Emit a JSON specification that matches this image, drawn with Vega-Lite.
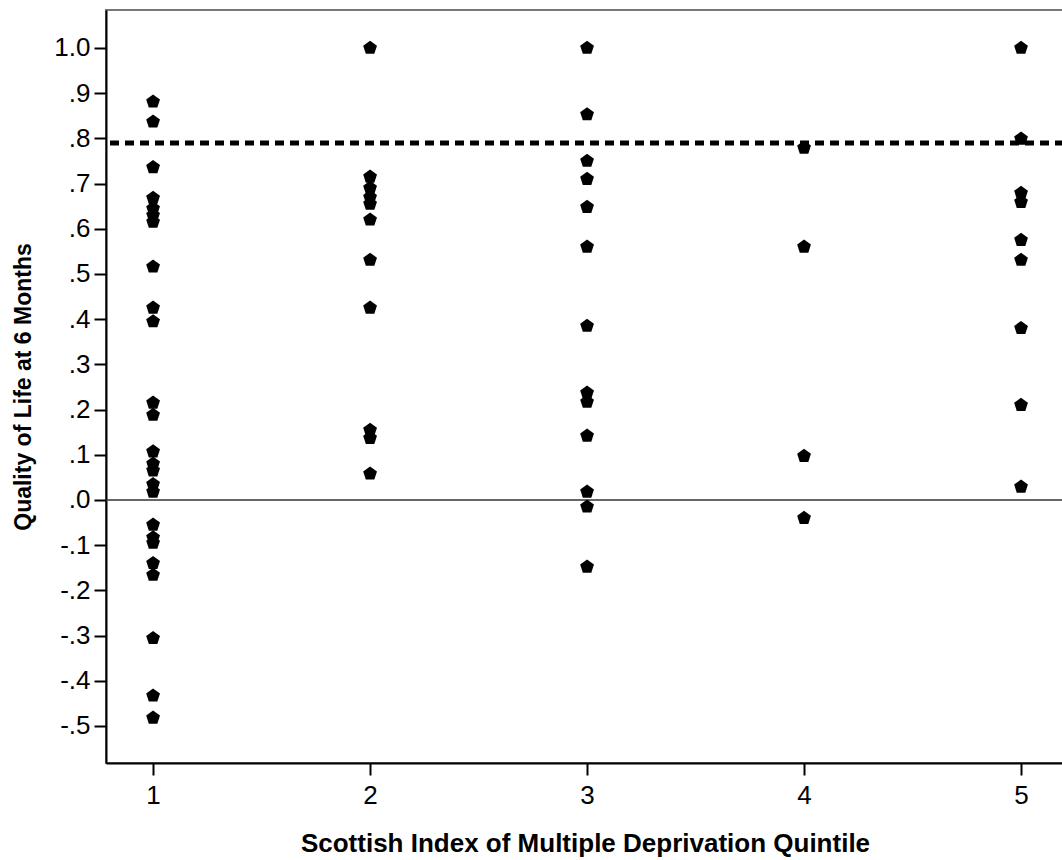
{
  "$schema": "https://vega.github.io/schema/vega-lite/v6.json",
  "autosize": "none",
  "width": 958,
  "height": 753,
  "padding": {"left": 106, "top": 10, "right": 0, "bottom": 97},
  "background": "white",
  "config": {
    "view": {"stroke": "#777777", "strokeWidth": 2},
    "font": "Liberation Sans"
  },
  "datasets": {
    "pts": [
      {"q": 1, "qol": 0.881}, {"q": 1, "qol": 0.837}, {"q": 1, "qol": 0.736},
      {"q": 1, "qol": 0.668}, {"q": 1, "qol": 0.645}, {"q": 1, "qol": 0.63}, {"q": 1, "qol": 0.615},
      {"q": 1, "qol": 0.516}, {"q": 1, "qol": 0.425}, {"q": 1, "qol": 0.395},
      {"q": 1, "qol": 0.215}, {"q": 1, "qol": 0.188},
      {"q": 1, "qol": 0.107}, {"q": 1, "qol": 0.08}, {"q": 1, "qol": 0.065}, {"q": 1, "qol": 0.035}, {"q": 1, "qol": 0.018},
      {"q": 1, "qol": -0.055}, {"q": 1, "qol": -0.083}, {"q": 1, "qol": -0.095},
      {"q": 1, "qol": -0.14}, {"q": 1, "qol": -0.166},
      {"q": 1, "qol": -0.306}, {"q": 1, "qol": -0.433}, {"q": 1, "qol": -0.482},
      {"q": 2, "qol": 1.0}, {"q": 2, "qol": 0.715}, {"q": 2, "qol": 0.69}, {"q": 2, "qol": 0.67}, {"q": 2, "qol": 0.655},
      {"q": 2, "qol": 0.62}, {"q": 2, "qol": 0.531}, {"q": 2, "qol": 0.425},
      {"q": 2, "qol": 0.155}, {"q": 2, "qol": 0.137}, {"q": 2, "qol": 0.058},
      {"q": 3, "qol": 1.0}, {"q": 3, "qol": 0.853}, {"q": 3, "qol": 0.75}, {"q": 3, "qol": 0.71},
      {"q": 3, "qol": 0.648}, {"q": 3, "qol": 0.56}, {"q": 3, "qol": 0.385},
      {"q": 3, "qol": 0.237}, {"q": 3, "qol": 0.217}, {"q": 3, "qol": 0.142},
      {"q": 3, "qol": 0.018}, {"q": 3, "qol": -0.015}, {"q": 3, "qol": -0.148},
      {"q": 4, "qol": 0.779}, {"q": 4, "qol": 0.56}, {"q": 4, "qol": 0.097}, {"q": 4, "qol": -0.04},
      {"q": 5, "qol": 1.0}, {"q": 5, "qol": 0.799}, {"q": 5, "qol": 0.679}, {"q": 5, "qol": 0.659},
      {"q": 5, "qol": 0.575}, {"q": 5, "qol": 0.531}, {"q": 5, "qol": 0.38}, {"q": 5, "qol": 0.21}, {"q": 5, "qol": 0.029}
    ],
    "refs": [{"y": 0, "kind": "zero"}],
    "cut": [{"y": 0.79, "kind": "cut"}]
  },
  "layer": [
    {
      "data": {"name": "refs"},
      "mark": {"type": "rule", "color": "#333333", "strokeWidth": 1.5},
      "encoding": {"y": {"field": "y", "type": "quantitative", "scale": {"domain": [-0.582, 1.084], "nice": false, "zero": false}}}
    },
    {
      "data": {"name": "cut"},
      "mark": {"type": "rule", "color": "black", "strokeWidth": 5, "strokeDash": [9, 6]},
      "encoding": {"y": {"field": "y", "type": "quantitative"}}
    },
    {
      "data": {"name": "pts"},
      "mark": {
        "type": "point",
        "filled": true,
        "color": "black",
        "opacity": 1,
        "size": 210,
        "shape": "M0,-1L0.951,-0.309L0.588,0.809L-0.588,0.809L-0.951,-0.309Z"
      },
      "encoding": {
        "x": {
          "field": "q", "type": "quantitative",
          "scale": {"domain": [0.783, 5.198], "nice": false, "zero": false},
          "axis": {
            "values": [1, 2, 3, 4, 5],
            "title": "Scottish Index of Multiple Deprivation Quintile",
            "titleFont": "Liberation Sans", "titleFontSize": 26, "titleFontWeight": "bold", "titleColor": "black",
            "titlePadding": 22,
            "labelFont": "Liberation Sans", "labelFontSize": 26, "labelColor": "black", "labelPadding": 7,
            "domainColor": "black", "domainWidth": 2,
            "tickColor": "black", "tickWidth": 2, "tickSize": 12,
            "grid": false
          }
        },
        "y": {
          "field": "qol", "type": "quantitative",
          "scale": {"domain": [-0.582, 1.084], "nice": false, "zero": false},
          "axis": {
            "values": [-0.5, -0.4, -0.3, -0.2, -0.1, 0, 0.1, 0.2, 0.3, 0.4, 0.5, 0.6, 0.7, 0.8, 0.9, 1.0],
            "labelExpr": "replace(replace(format(datum.value, '.1f'), '0.', '.'), '\u2212', '-')",
            "title": "Quality of Life at 6 Months",
            "titleFont": "Liberation Sans", "titleFontSize": 23, "titleFontWeight": "bold", "titleColor": "black",
            "titlePadding": 18,
            "labelFont": "Liberation Sans", "labelFontSize": 26, "labelColor": "black", "labelPadding": 4,
            "domainColor": "black", "domainWidth": 2,
            "tickColor": "black", "tickWidth": 2, "tickSize": 12,
            "grid": false
          }
        }
      }
    }
  ]
}
